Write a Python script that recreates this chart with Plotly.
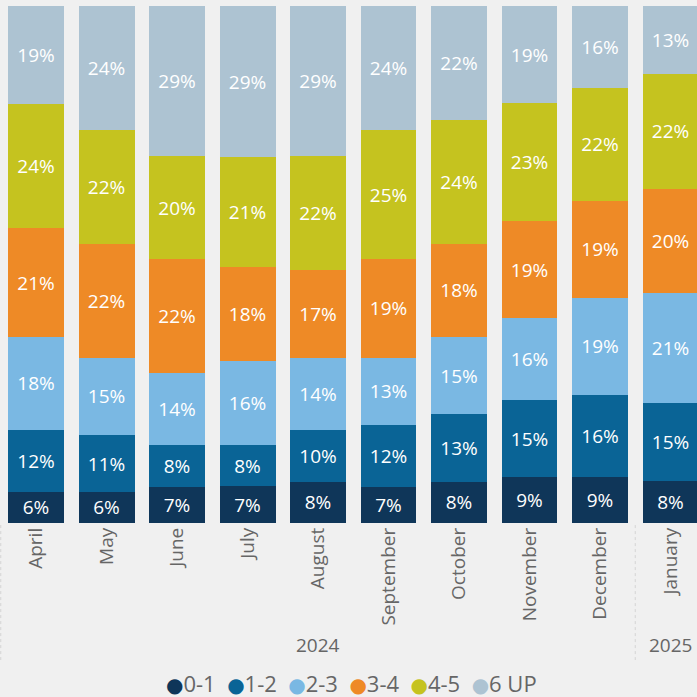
import plotly.graph_objects as go

months = ["April", "May", "June", "July", "August", "September",
          "October", "November", "December", "January"]
years = ["2024", "2025"]
series_names = ["0-1", "1-2", "2-3", "3-4", "4-5", "6 UP"]

v_0_1 = [6, 6, 7, 7, 8, 7, 8, 9, 9, 8]
v_1_2 = [12, 11, 8, 8, 10, 12, 13, 15, 16, 15]
v_2_3 = [18, 15, 14, 16, 14, 13, 15, 16, 19, 21]
v_3_4 = [21, 22, 22, 18, 17, 19, 18, 19, 19, 20]
v_4_5 = [24, 22, 20, 21, 22, 25, 24, 23, 22, 22]
v_6up = [19, 24, 29, 29, 29, 24, 22, 19, 16, 13]

series_values = [v_0_1, v_1_2, v_2_3, v_3_4, v_4_5, v_6up]
colors = ["#0f3659", "#0a6496", "#7ab8e3", "#ee8a26", "#c5c31f", "#adc3d2"]

FONT = "Segoe UI, Open Sans, sans-serif"
GRAY = "#666666"
x_idx = list(range(len(months)))

fig = go.Figure()
for name, vals, col in zip(series_names, series_values, colors):
    fig.add_trace(go.Bar(
        x=x_idx, y=vals, name=name,
        marker=dict(color=col, line=dict(width=0)),
        text=[f"{v}%" for v in vals],
        textposition="inside", insidetextanchor="middle",
        textangle=0,
        textfont=dict(color="white", size=19, family=FONT),
        showlegend=False,
    ))

fig.update_layout(
    barmode="stack", barnorm="percent", bargap=0.206,
    width=697, height=697,
    margin=dict(l=0, r=0, t=6, b=174, autoexpand=False),
    paper_bgcolor="#f0f0f0", plot_bgcolor="#f0f0f0",
    uniformtext=dict(minsize=19, mode="show"),
    font=dict(family=FONT, color=GRAY),
    showlegend=False,
    xaxis=dict(range=[-0.511, 9.376], tickmode="array", tickvals=x_idx,
               ticktext=months, tickangle=-90, showgrid=False,
               zeroline=False, showline=False, ticks="", automargin=False,
               tickfont=dict(size=19, color=GRAY, family=FONT)),
    yaxis=dict(range=[0, 100], visible=False, showgrid=False),
)

# year group labels
for xi, yr in [(4, years[0]), (9, years[1])]:
    fig.add_annotation(x=xi, y=-0.236, xref="x", yref="paper", text=yr,
                       showarrow=False, xanchor="center", yanchor="middle",
                       font=dict(size=19, color=GRAY, family=FONT))

# dotted group separators
for xs in [-0.5, 8.5]:
    fig.add_shape(type="line", xref="x", yref="paper", x0=xs, x1=xs,
                  y0=-0.004, y1=-0.265,
                  line=dict(color="#d4d4d4", width=1, dash="dot"))

# legend with round markers (built from the series names / colours)
parts = []
for name, col in zip(series_names, colors):
    parts.append(f"<span style='color:{col};font-family:DejaVu Sans;font-size:20px'>●</span>{name}")
legend_text = "&nbsp;&nbsp;".join(parts)
fig.add_annotation(x=0.505, y=-0.309, xref="paper", yref="paper",
                   xanchor="center", yanchor="middle", text=legend_text,
                   showarrow=False, height=24, valign="middle",
                   font=dict(size=22, color=GRAY, family=FONT))

fig.write_html("out.html",
               config={"displayModeBar": False},
               post_script="document.body.style.margin='0';"
                           "document.body.style.overflow='hidden';")
